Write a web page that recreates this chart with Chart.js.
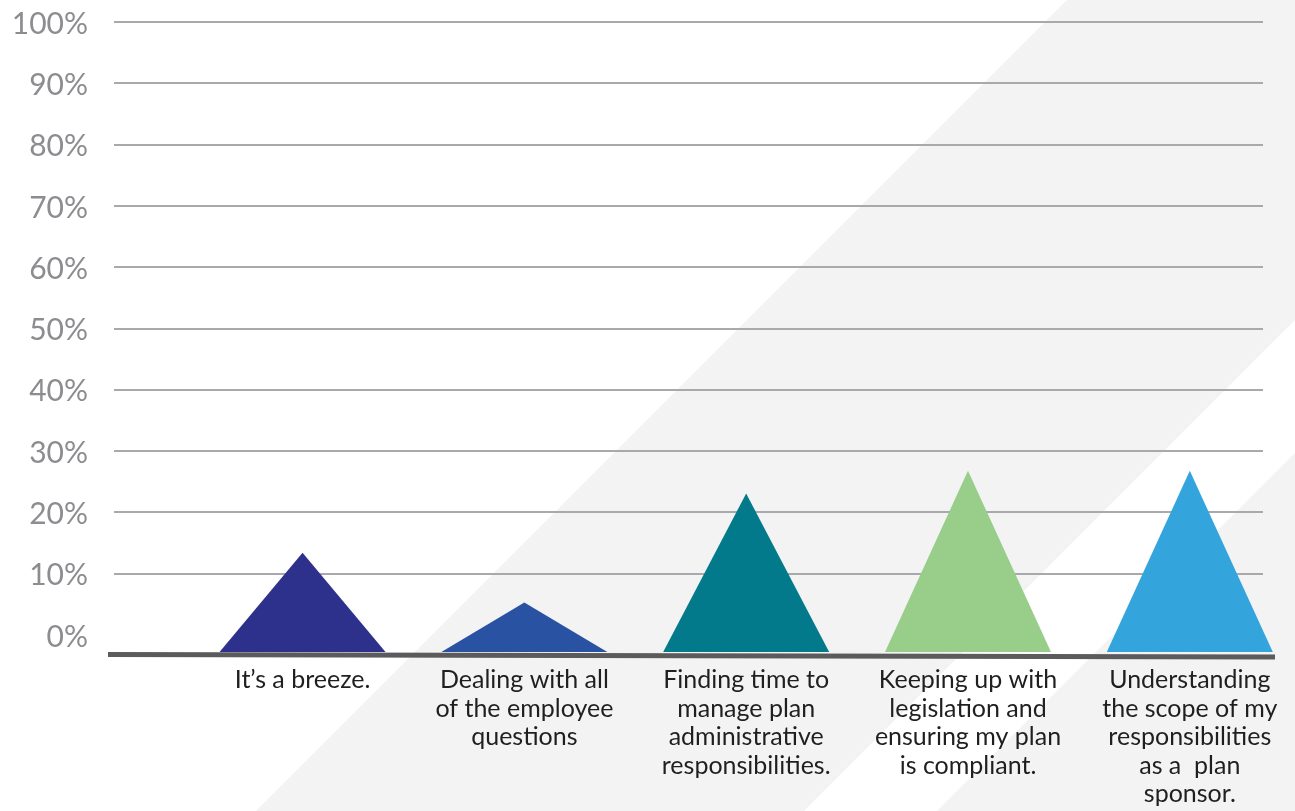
<!DOCTYPE html>
<html>
<head>
<meta charset="utf-8">
<title>Plan administration challenges</title>
<script src="https://cdn.jsdelivr.net/npm/chart.js@4.4.0/dist/chart.umd.min.js"></script>
<style>
  html, body { margin: 0; padding: 0; background: #ffffff; }
  #wrap { width: 1295px; height: 811px; position: relative; }
</style>
</head>
<body>
<div id="wrap"><canvas id="chart"></canvas></div>
<script>
// survey answers, one triangle per answer
const categories = [
    ['It’s a breeze.'],
    ['Dealing with all', 'of the employee', 'questions'],
    ['Finding time to', 'manage plan', 'administrative', 'responsibilities.'],
    ['Keeping up with', 'legislation and', 'ensuring my plan', 'is compliant.'],
    ['Understanding', 'the scope of my', 'responsibilities', 'as a  plan', 'sponsor.']
];
const shares = [13.4, 5.3, 23.1, 26.8, 26.8];
const colors = ['#2e318b', '#2a52a3', '#037a8b', '#98cd8a', '#33a4dc'];
const yTicks = [0, 10, 20, 30, 40, 50, 60, 70, 80, 90, 100];

// white / light grey diagonal stripes behind everything
const stripes = {
    id: 'stripes',
    beforeDraw(chart) {
        const { ctx, width, height } = chart;
        ctx.save();
        ctx.fillStyle = '#ffffff';
        ctx.fillRect(0, 0, width, height);
        ctx.fillStyle = '#f3f3f3';
        ctx.beginPath();
        ctx.moveTo(1067, 0);
        ctx.lineTo(width, 0);
        ctx.lineTo(width, 1615 - width);
        ctx.lineTo(1615 - height, height);
        ctx.lineTo(1067 - height, height);
        ctx.closePath();
        ctx.fill();
        ctx.beginPath();
        ctx.moveTo(width, 1748 - width);
        ctx.lineTo(width, height);
        ctx.lineTo(1748 - height, height);
        ctx.closePath();
        ctx.fill();
        ctx.restore();
    }
};

// thick base line under the triangles
const baseLine = {
    id: 'baseLine',
    beforeDatasetsDraw(chart) {
        const { ctx, chartArea } = chart;
        ctx.save();
        ctx.strokeStyle = '#5b5b5d';
        ctx.lineWidth = 5;
        ctx.beginPath();
        ctx.moveTo(chartArea.left - 6, chartArea.bottom + 2.5);
        ctx.lineTo(chartArea.right + 12, chartArea.bottom + 5);
        ctx.stroke();
        ctx.restore();
    }
};

// bars are drawn as triangles standing on the base line
const triangles = {
    id: 'triangles',
    beforeDatasetDraw(chart, args) {
        const { ctx, chartArea } = chart;
        const bottom = chartArea.bottom;
        args.meta.data.forEach((bar, i) => {
            const half = bar.width / 2;
            ctx.save();
            ctx.fillStyle = colors[i];
            ctx.beginPath();
            ctx.moveTo(bar.x - half, bottom);
            ctx.lineTo(bar.x, bar.y);
            ctx.lineTo(bar.x + half, bottom);
            ctx.closePath();
            ctx.fill();
            ctx.restore();
        });
        return false;
    }
};

new Chart(document.getElementById('chart'), {
    type: 'bar',
    data: {
        datasets: [{
            data: shares.map((v, i) => ({ x: i, y: v })),
            backgroundColor: colors,
            barThickness: 166,
            clip: false
        }]
    },
    options: {
        responsive: true,
        maintainAspectRatio: false,
        animation: false,
        layout: { padding: { top: 0, right: 32, bottom: 0, left: 0 } },
        plugins: {
            legend: { display: false },
            tooltip: { enabled: false }
        },
        scales: {
            x: {
                type: 'linear',
                min: -0.85,
                max: 4.33,
                offset: false,
                grid: { display: false },
                border: { display: false },
                afterBuildTicks: scale => {
                    scale.ticks = categories.map((c, i) => ({ value: i }));
                },
                afterFit: scale => { scale.height = 159; },
                ticks: {
                    autoSkip: false,
                    maxRotation: 0,
                    padding: 6,
                    color: '#1f1f1f',
                    font: { family: 'Lato', size: 25, lineHeight: 1.14 },
                    callback: value => categories[value]
                }
            },
            y: {
                min: -2.77,
                max: 100,
                grid: {
                    color: ctx => ctx.tick && ctx.tick.value === 0 ? 'rgba(0,0,0,0)' : '#a9a9ad',
                    lineWidth: 2,
                    drawTicks: false
                },
                border: { display: false },
                afterBuildTicks: scale => {
                    scale.ticks = yTicks.map(v => ({ value: v }));
                },
                afterFit: scale => {
                    scale.width = 114;
                    scale.paddingTop = 22;
                    scale.paddingBottom = 0;
                },
                ticks: {
                    padding: 26,
                    labelOffset: 2,
                    color: '#8d8d91',
                    font: { family: 'Lato', size: 30 },
                    callback: value => value + '%'
                }
            }
        }
    },
    plugins: [stripes, baseLine, triangles]
});
</script>
</body>
</html>
